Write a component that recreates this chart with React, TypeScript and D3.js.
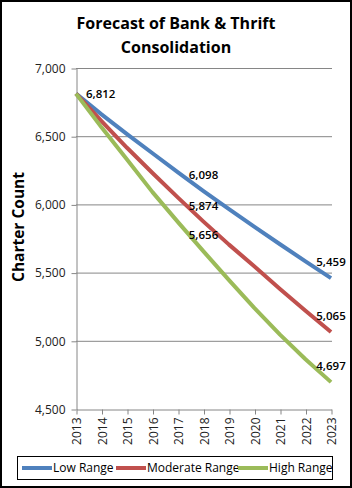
import React, { useEffect, useRef } from "react";
import * as d3 from "d3";

// chart values
const years = [2013, 2014, 2015, 2016, 2017, 2018, 2019, 2020, 2021, 2022, 2023];
const lowRange = [6812, 6660, 6515, 6375, 6235, 6098, 5965, 5835, 5708, 5582, 5459];
const moderateRange = [6812, 6610, 6415, 6230, 6050, 5874, 5705, 5545, 5380, 5220, 5065];
const highRange = [6812, 6565, 6330, 6090, 5870, 5656, 5445, 5240, 5045, 4865, 4697];
const seriesNames = ["Low Range", "Moderate Range", "High Range"];
const yTicks = [4500, 5000, 5500, 6000, 6500, 7000];
// which points carry a data label, and where it sits
const labelled = [
  { s: 0, i: 0, pos: "right" },
  { s: 0, i: 5, pos: "above" },
  { s: 1, i: 5, pos: "above" },
  { s: 2, i: 5, pos: "above" },
  { s: 0, i: 10, pos: "above" },
  { s: 1, i: 10, pos: "above" },
  { s: 2, i: 10, pos: "above" },
];

const colors = ["#4F81BD", "#C0504D", "#9BBB59"];
const FONT = "'Open Sans', sans-serif";

export default function App() {
  const ref = useRef<SVGSVGElement>(null);

  useEffect(() => {
    const svg = d3.select(ref.current);
    svg.selectAll("*").remove();
    const W = 352, H = 488;
    const series = [lowRange, moderateRange, highRange];

    svg.append("rect").attr("x", 0).attr("y", 0).attr("width", W).attr("height", H).attr("fill", "#fff");
    svg.append("rect").attr("x", 1).attr("y", 1).attr("width", W - 2).attr("height", H - 2)
      .attr("fill", "none").attr("stroke", "#000").attr("stroke-width", 2);

    // title
    const title = svg.append("text").attr("text-anchor", "middle")
      .style("font-family", FONT).style("font-weight", "bold").style("font-size", "16px").attr("fill", "#000");
    title.append("tspan").attr("x", 176).attr("y", 29).text("Forecast of Bank & Thrift");
    title.append("tspan").attr("x", 176).attr("y", 53).text("Consolidation");

    const x = d3.scaleLinear().domain([2013, 2023]).range([76, 331]);
    const y = d3.scaleLinear().domain([4500, 7000]).range([409, 68]);

    // gridlines
    svg.append("g").selectAll("line").data(yTicks.slice(1)).join("line")
      .attr("x1", 76).attr("x2", 332)
      .attr("y1", d => y(d) + 0.5).attr("y2", d => y(d) + 0.5)
      .attr("stroke", "#868686").attr("stroke-width", 1);

    // y axis
    const yAxis = svg.append("g").attr("transform", "translate(76.5,0.5)")
      .call(d3.axisLeft(y).tickValues(yTicks).tickFormat(d3.format(",")).tickSize(5).tickSizeOuter(0));
    yAxis.selectAll("path,line").attr("stroke", "#868686");
    yAxis.selectAll("text").style("font-family", FONT).style("font-size", "12px").attr("fill", "#222").attr("x", -11);

    // x axis
    const xAxis = svg.append("g").attr("transform", "translate(0.5,409.5)")
      .call(d3.axisBottom(x).tickValues(years).tickFormat(d3.format("d")).tickSize(5).tickSizeOuter(0));
    xAxis.selectAll("path,line").attr("stroke", "#868686");
    xAxis.selectAll("text")
      .style("font-family", FONT).style("font-size", "12px").attr("fill", "#222")
      .attr("transform", "rotate(-90)").attr("text-anchor", "end")
      .attr("x", -8).attr("y", 0).attr("dy", "0.35em");

    // axis title
    svg.append("text").attr("transform", "translate(24,227) rotate(-90)")
      .attr("text-anchor", "middle").style("font-family", FONT).style("font-weight", "bold").style("font-size", "15.5px")
      .text("Charter Count");

    // lines
    const line = d3.line<number>().x((_, i) => x(years[i])).y(d => y(d));
    svg.append("g").selectAll("path").data(series).join("path")
      .attr("d", d => line(d)).attr("fill", "none")
      .attr("stroke", (_, i) => colors[i]).attr("stroke-width", 4).attr("stroke-linejoin", "round");

    // data labels
    svg.append("g").selectAll("text").data(labelled).join("text")
      .attr("x", d => x(years[d.i]) + (d.pos === "right" ? 10 : 0))
      .attr("y", d => y(series[d.s][d.i]) + (d.pos === "right" ? 0 : -16))
      .attr("dy", "0.35em")
      .attr("text-anchor", d => (d.pos === "right" ? "start" : "middle"))
      .style("font-family", FONT).style("font-weight", "600").style("font-size", "11.5px").attr("fill", "#000")
      .text(d => d3.format(",")(series[d.s][d.i]));

    // legend
    svg.append("rect").attr("x", 17.5).attr("y", 456.5).attr("width", 315).attr("height", 23)
      .attr("fill", "#fff").attr("stroke", "#000").attr("stroke-width", 1);
    const itemX = [22, 116, 238];
    const lg = svg.append("g").selectAll("g").data(seriesNames).join("g")
      .attr("transform", (_, i) => `translate(${itemX[i]},468)`);
    lg.append("line").attr("x1", 0).attr("x2", 30).attr("y1", 0).attr("y2", 0)
      .attr("stroke", (_, i) => colors[i]).attr("stroke-width", 4);
    lg.append("text").attr("x", 31).attr("dy", "0.35em")
      .style("font-family", FONT).style("font-size", "12px").attr("fill", "#000")
      .text(d => d);
  }, []);

  return (
    <svg ref={ref} width={352} height={488} style={{ position: "absolute", left: 0, top: 0 }}></svg>
  );
}
